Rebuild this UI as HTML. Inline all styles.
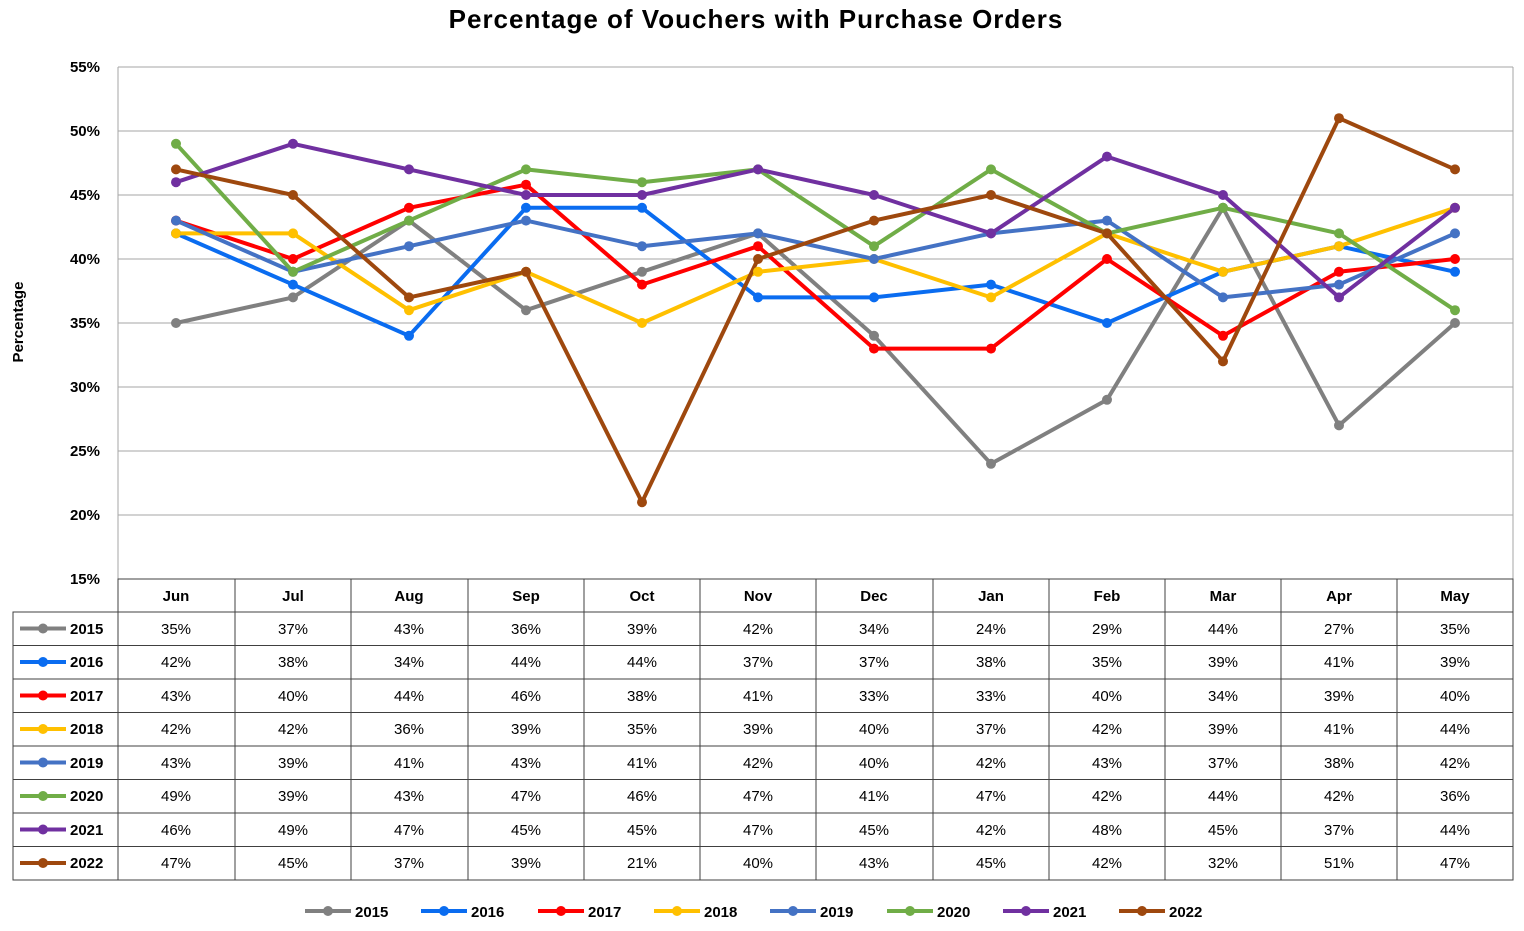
<!DOCTYPE html>
<html><head><meta charset="utf-8"><style>
body{margin:0;background:#fff}
svg text{font-family:"Liberation Sans",Arial,sans-serif}
.t{font-size:15px;text-anchor:middle;fill:#000}
.b{font-weight:bold}
</style></head><body>
<svg width="1524" height="926" viewBox="0 0 1524 926" xmlns="http://www.w3.org/2000/svg">
<text x="756" y="28" class="b" style="font-size:26px;letter-spacing:1px;text-anchor:middle">Percentage of Vouchers with Purchase Orders</text>
<g stroke="#a6a6a6" stroke-width="1">
<line x1="118" y1="67" x2="1513" y2="67"/><line x1="118" y1="131" x2="1513" y2="131"/><line x1="118" y1="195" x2="1513" y2="195"/><line x1="118" y1="259" x2="1513" y2="259"/><line x1="118" y1="323" x2="1513" y2="323"/><line x1="118" y1="387" x2="1513" y2="387"/><line x1="118" y1="451" x2="1513" y2="451"/><line x1="118" y1="515" x2="1513" y2="515"/>
<line x1="118" y1="67" x2="118" y2="579"/><line x1="1513" y1="67" x2="1513" y2="579"/>
</g>
<g class="b" style="font-size:15px;text-anchor:end">
<text x="100" y="72">55%</text><text x="100" y="136">50%</text><text x="100" y="200">45%</text><text x="100" y="264">40%</text><text x="100" y="328">35%</text><text x="100" y="392">30%</text><text x="100" y="456">25%</text><text x="100" y="520">20%</text><text x="100" y="584">15%</text>
</g>
<text transform="translate(23,322) rotate(-90)" class="b" style="font-size:15px;text-anchor:middle">Percentage</text>
<g stroke="#404040" stroke-width="1" fill="none">
<rect x="118" y="579" width="1395" height="301"/>
<rect x="13" y="612" width="105" height="268"/>
<line x1="13" y1="645.5" x2="1513" y2="645.5"/><line x1="13" y1="679" x2="1513" y2="679"/><line x1="13" y1="712.5" x2="1513" y2="712.5"/><line x1="13" y1="746" x2="1513" y2="746"/><line x1="13" y1="779.5" x2="1513" y2="779.5"/><line x1="13" y1="813" x2="1513" y2="813"/><line x1="13" y1="846.5" x2="1513" y2="846.5"/><line x1="118" y1="612" x2="1513" y2="612"/>
<line x1="235" y1="579" x2="235" y2="880"/><line x1="351" y1="579" x2="351" y2="880"/><line x1="468" y1="579" x2="468" y2="880"/><line x1="584" y1="579" x2="584" y2="880"/><line x1="700" y1="579" x2="700" y2="880"/><line x1="816" y1="579" x2="816" y2="880"/><line x1="933" y1="579" x2="933" y2="880"/><line x1="1049" y1="579" x2="1049" y2="880"/><line x1="1165" y1="579" x2="1165" y2="880"/><line x1="1281" y1="579" x2="1281" y2="880"/><line x1="1397" y1="579" x2="1397" y2="880"/>
</g>
<g class="t b">
<text x="176" y="601">Jun</text><text x="293" y="601">Jul</text><text x="409" y="601">Aug</text><text x="526" y="601">Sep</text><text x="642" y="601">Oct</text><text x="758" y="601">Nov</text><text x="874" y="601">Dec</text><text x="991" y="601">Jan</text><text x="1107" y="601">Feb</text><text x="1223" y="601">Mar</text><text x="1339" y="601">Apr</text><text x="1455" y="601">May</text>
</g>
<g fill="none" stroke-width="4" stroke-linejoin="round">
<polyline stroke="#808080" points="176,323 293,297.4 409,220.6 526,310.2 642,271.8 758,233.4 874,335.8 991,463.8 1107,399.8 1223,207.8 1339,425.4 1455,323"/>
<polyline stroke="#0a6cf0" points="176,233.4 293,284.6 409,335.8 526,207.8 642,207.8 758,297.4 874,297.4 991,284.6 1107,323 1223,271.8 1339,246.2 1455,271.8"/>
<polyline stroke="#ff0000" points="176,220.6 293,259 409,207.8 526,184.7 642,284.6 758,246.2 874,348.6 991,348.6 1107,259 1223,335.8 1339,271.8 1455,259"/>
<polyline stroke="#ffc000" points="176,233.4 293,233.4 409,310.2 526,271.8 642,323 758,271.8 874,259 991,297.4 1107,233.4 1223,271.8 1339,246.2 1455,207.8"/>
<polyline stroke="#4472c4" points="176,220.6 293,271.8 409,246.2 526,220.6 642,246.2 758,233.4 874,259 991,233.4 1107,220.6 1223,297.4 1339,284.6 1455,233.4"/>
<polyline stroke="#70ad47" points="176,143.8 293,271.8 409,220.6 526,169.4 642,182.2 758,169.4 874,246.2 991,169.4 1107,233.4 1223,207.8 1339,233.4 1455,310.2"/>
<polyline stroke="#7030a0" points="176,182.2 293,143.8 409,169.4 526,195 642,195 758,169.4 874,195 991,233.4 1107,156.6 1223,195 1339,297.4 1455,207.8"/>
<polyline stroke="#9e480e" points="176,169.4 293,195 409,297.4 526,271.8 642,502.2 758,259 874,220.6 991,195 1107,233.4 1223,361.4 1339,118.2 1455,169.4"/>
</g>
<g fill="#808080"><circle cx="176" cy="323" r="5"/><circle cx="293" cy="297.4" r="5"/><circle cx="409" cy="220.6" r="5"/><circle cx="526" cy="310.2" r="5"/><circle cx="642" cy="271.8" r="5"/><circle cx="758" cy="233.4" r="5"/><circle cx="874" cy="335.8" r="5"/><circle cx="991" cy="463.8" r="5"/><circle cx="1107" cy="399.8" r="5"/><circle cx="1223" cy="207.8" r="5"/><circle cx="1339" cy="425.4" r="5"/><circle cx="1455" cy="323" r="5"/></g>
<g fill="#0a6cf0"><circle cx="176" cy="233.4" r="5"/><circle cx="293" cy="284.6" r="5"/><circle cx="409" cy="335.8" r="5"/><circle cx="526" cy="207.8" r="5"/><circle cx="642" cy="207.8" r="5"/><circle cx="758" cy="297.4" r="5"/><circle cx="874" cy="297.4" r="5"/><circle cx="991" cy="284.6" r="5"/><circle cx="1107" cy="323" r="5"/><circle cx="1223" cy="271.8" r="5"/><circle cx="1339" cy="246.2" r="5"/><circle cx="1455" cy="271.8" r="5"/></g>
<g fill="#ff0000"><circle cx="176" cy="220.6" r="5"/><circle cx="293" cy="259" r="5"/><circle cx="409" cy="207.8" r="5"/><circle cx="526" cy="184.7" r="5"/><circle cx="642" cy="284.6" r="5"/><circle cx="758" cy="246.2" r="5"/><circle cx="874" cy="348.6" r="5"/><circle cx="991" cy="348.6" r="5"/><circle cx="1107" cy="259" r="5"/><circle cx="1223" cy="335.8" r="5"/><circle cx="1339" cy="271.8" r="5"/><circle cx="1455" cy="259" r="5"/></g>
<g fill="#ffc000"><circle cx="176" cy="233.4" r="5"/><circle cx="293" cy="233.4" r="5"/><circle cx="409" cy="310.2" r="5"/><circle cx="526" cy="271.8" r="5"/><circle cx="642" cy="323" r="5"/><circle cx="758" cy="271.8" r="5"/><circle cx="874" cy="259" r="5"/><circle cx="991" cy="297.4" r="5"/><circle cx="1107" cy="233.4" r="5"/><circle cx="1223" cy="271.8" r="5"/><circle cx="1339" cy="246.2" r="5"/><circle cx="1455" cy="207.8" r="5"/></g>
<g fill="#4472c4"><circle cx="176" cy="220.6" r="5"/><circle cx="293" cy="271.8" r="5"/><circle cx="409" cy="246.2" r="5"/><circle cx="526" cy="220.6" r="5"/><circle cx="642" cy="246.2" r="5"/><circle cx="758" cy="233.4" r="5"/><circle cx="874" cy="259" r="5"/><circle cx="991" cy="233.4" r="5"/><circle cx="1107" cy="220.6" r="5"/><circle cx="1223" cy="297.4" r="5"/><circle cx="1339" cy="284.6" r="5"/><circle cx="1455" cy="233.4" r="5"/></g>
<g fill="#70ad47"><circle cx="176" cy="143.8" r="5"/><circle cx="293" cy="271.8" r="5"/><circle cx="409" cy="220.6" r="5"/><circle cx="526" cy="169.4" r="5"/><circle cx="642" cy="182.2" r="5"/><circle cx="758" cy="169.4" r="5"/><circle cx="874" cy="246.2" r="5"/><circle cx="991" cy="169.4" r="5"/><circle cx="1107" cy="233.4" r="5"/><circle cx="1223" cy="207.8" r="5"/><circle cx="1339" cy="233.4" r="5"/><circle cx="1455" cy="310.2" r="5"/></g>
<g fill="#7030a0"><circle cx="176" cy="182.2" r="5"/><circle cx="293" cy="143.8" r="5"/><circle cx="409" cy="169.4" r="5"/><circle cx="526" cy="195" r="5"/><circle cx="642" cy="195" r="5"/><circle cx="758" cy="169.4" r="5"/><circle cx="874" cy="195" r="5"/><circle cx="991" cy="233.4" r="5"/><circle cx="1107" cy="156.6" r="5"/><circle cx="1223" cy="195" r="5"/><circle cx="1339" cy="297.4" r="5"/><circle cx="1455" cy="207.8" r="5"/></g>
<g fill="#9e480e"><circle cx="176" cy="169.4" r="5"/><circle cx="293" cy="195" r="5"/><circle cx="409" cy="297.4" r="5"/><circle cx="526" cy="271.8" r="5"/><circle cx="642" cy="502.2" r="5"/><circle cx="758" cy="259" r="5"/><circle cx="874" cy="220.6" r="5"/><circle cx="991" cy="195" r="5"/><circle cx="1107" cy="233.4" r="5"/><circle cx="1223" cy="361.4" r="5"/><circle cx="1339" cy="118.2" r="5"/><circle cx="1455" cy="169.4" r="5"/></g>
<g stroke-width="4">
<line x1="20" y1="628.5" x2="66" y2="628.5" stroke="#808080"/><line x1="20" y1="662" x2="66" y2="662" stroke="#0a6cf0"/><line x1="20" y1="695.5" x2="66" y2="695.5" stroke="#ff0000"/><line x1="20" y1="729" x2="66" y2="729" stroke="#ffc000"/><line x1="20" y1="762.5" x2="66" y2="762.5" stroke="#4472c4"/><line x1="20" y1="796" x2="66" y2="796" stroke="#70ad47"/><line x1="20" y1="829.5" x2="66" y2="829.5" stroke="#7030a0"/><line x1="20" y1="863" x2="66" y2="863" stroke="#9e480e"/>
</g>
<circle cx="43" cy="628.5" r="5" fill="#808080"/><circle cx="43" cy="662" r="5" fill="#0a6cf0"/><circle cx="43" cy="695.5" r="5" fill="#ff0000"/><circle cx="43" cy="729" r="5" fill="#ffc000"/><circle cx="43" cy="762.5" r="5" fill="#4472c4"/><circle cx="43" cy="796" r="5" fill="#70ad47"/><circle cx="43" cy="829.5" r="5" fill="#7030a0"/><circle cx="43" cy="863" r="5" fill="#9e480e"/>
<g style="font-size:15px" class="b">
<text x="70" y="634">2015</text><text x="70" y="667">2016</text><text x="70" y="701">2017</text><text x="70" y="734">2018</text><text x="70" y="768">2019</text><text x="70" y="801">2020</text><text x="70" y="835">2021</text><text x="70" y="868">2022</text>
</g>
<g class="t">
<text x="176" y="634">35%</text><text x="293" y="634">37%</text><text x="409" y="634">43%</text><text x="526" y="634">36%</text><text x="642" y="634">39%</text><text x="758" y="634">42%</text><text x="874" y="634">34%</text><text x="991" y="634">24%</text><text x="1107" y="634">29%</text><text x="1223" y="634">44%</text><text x="1339" y="634">27%</text><text x="1455" y="634">35%</text>
<text x="176" y="667">42%</text><text x="293" y="667">38%</text><text x="409" y="667">34%</text><text x="526" y="667">44%</text><text x="642" y="667">44%</text><text x="758" y="667">37%</text><text x="874" y="667">37%</text><text x="991" y="667">38%</text><text x="1107" y="667">35%</text><text x="1223" y="667">39%</text><text x="1339" y="667">41%</text><text x="1455" y="667">39%</text>
<text x="176" y="701">43%</text><text x="293" y="701">40%</text><text x="409" y="701">44%</text><text x="526" y="701">46%</text><text x="642" y="701">38%</text><text x="758" y="701">41%</text><text x="874" y="701">33%</text><text x="991" y="701">33%</text><text x="1107" y="701">40%</text><text x="1223" y="701">34%</text><text x="1339" y="701">39%</text><text x="1455" y="701">40%</text>
<text x="176" y="734">42%</text><text x="293" y="734">42%</text><text x="409" y="734">36%</text><text x="526" y="734">39%</text><text x="642" y="734">35%</text><text x="758" y="734">39%</text><text x="874" y="734">40%</text><text x="991" y="734">37%</text><text x="1107" y="734">42%</text><text x="1223" y="734">39%</text><text x="1339" y="734">41%</text><text x="1455" y="734">44%</text>
<text x="176" y="768">43%</text><text x="293" y="768">39%</text><text x="409" y="768">41%</text><text x="526" y="768">43%</text><text x="642" y="768">41%</text><text x="758" y="768">42%</text><text x="874" y="768">40%</text><text x="991" y="768">42%</text><text x="1107" y="768">43%</text><text x="1223" y="768">37%</text><text x="1339" y="768">38%</text><text x="1455" y="768">42%</text>
<text x="176" y="801">49%</text><text x="293" y="801">39%</text><text x="409" y="801">43%</text><text x="526" y="801">47%</text><text x="642" y="801">46%</text><text x="758" y="801">47%</text><text x="874" y="801">41%</text><text x="991" y="801">47%</text><text x="1107" y="801">42%</text><text x="1223" y="801">44%</text><text x="1339" y="801">42%</text><text x="1455" y="801">36%</text>
<text x="176" y="835">46%</text><text x="293" y="835">49%</text><text x="409" y="835">47%</text><text x="526" y="835">45%</text><text x="642" y="835">45%</text><text x="758" y="835">47%</text><text x="874" y="835">45%</text><text x="991" y="835">42%</text><text x="1107" y="835">48%</text><text x="1223" y="835">45%</text><text x="1339" y="835">37%</text><text x="1455" y="835">44%</text>
<text x="176" y="868">47%</text><text x="293" y="868">45%</text><text x="409" y="868">37%</text><text x="526" y="868">39%</text><text x="642" y="868">21%</text><text x="758" y="868">40%</text><text x="874" y="868">43%</text><text x="991" y="868">45%</text><text x="1107" y="868">42%</text><text x="1223" y="868">32%</text><text x="1339" y="868">51%</text><text x="1455" y="868">47%</text>
</g>
<g stroke-width="4">
<line x1="305" y1="911" x2="351" y2="911" stroke="#808080"/><line x1="421" y1="911" x2="467" y2="911" stroke="#0a6cf0"/><line x1="538" y1="911" x2="584" y2="911" stroke="#ff0000"/><line x1="654" y1="911" x2="700" y2="911" stroke="#ffc000"/><line x1="770" y1="911" x2="816" y2="911" stroke="#4472c4"/><line x1="887" y1="911" x2="933" y2="911" stroke="#70ad47"/><line x1="1003" y1="911" x2="1049" y2="911" stroke="#7030a0"/><line x1="1119" y1="911" x2="1165" y2="911" stroke="#9e480e"/>
</g>
<circle cx="328" cy="911" r="5" fill="#808080"/><circle cx="444" cy="911" r="5" fill="#0a6cf0"/><circle cx="561" cy="911" r="5" fill="#ff0000"/><circle cx="677" cy="911" r="5" fill="#ffc000"/><circle cx="793" cy="911" r="5" fill="#4472c4"/><circle cx="910" cy="911" r="5" fill="#70ad47"/><circle cx="1026" cy="911" r="5" fill="#7030a0"/><circle cx="1142" cy="911" r="5" fill="#9e480e"/>
<g class="b" style="font-size:15px">
<text x="355" y="917">2015</text><text x="471" y="917">2016</text><text x="588" y="917">2017</text><text x="704" y="917">2018</text><text x="820" y="917">2019</text><text x="937" y="917">2020</text><text x="1053" y="917">2021</text><text x="1169" y="917">2022</text>
</g>
</svg>
</body></html>
